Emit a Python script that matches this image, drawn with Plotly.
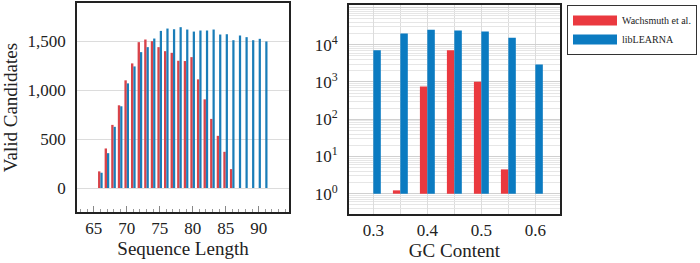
import plotly.graph_objects as go

# ---------------- data ----------------
seq_lengths = [66, 67, 68, 69, 70, 71, 72, 73, 74, 75, 76, 77, 78,
               79, 80, 81, 82, 83, 84, 85, 86, 87, 88, 89, 90, 91]
wachsmuth_len = [170, 404, 645, 845, 1100, 1273, 1490, 1517, 1500, 1439, 1398, 1381, 1300,
                 1297, 1337, 1110, 906, 706, 533, 370, 193, 0, 0, 0, 0, 0]
learna_len = [156, 356, 625, 835, 1069, 1242, 1388, 1439, 1527, 1605, 1629, 1622, 1643,
              1619, 1598, 1609, 1609, 1619, 1568, 1571, 1510, 1558, 1541, 1510, 1524, 1497]

gc_content = [0.30, 0.35, 0.40, 0.45, 0.50, 0.55, 0.60]
wachsmuth_gc = [None, 1.23, 759, 7160, 1012, 4.5, None]
learna_gc = [7130, 20050, 25100, 24150, 22700, 15350, 2960]

len_ticks = [65, 70, 75, 80, 85, 90]
gc_ticks = [0.3, 0.4, 0.5, 0.6]
log_ticks = [1, 10, 100, 1000, 10000, 100000]
log_ticktext = ["10<sup>%d</sup>" % i for i in range(6)]

names = ["Wachsmuth et al.", "libLEARNA"]

RED_L = "#D8434A"
BLUE_L = "#1A7DB8"
RED = "#EA393F"
BLUE = "#0B7BC1"
FONT = "Liberation Serif"
GRID = "#DCDCDC"
TICKFONT = dict(family=FONT, size=17, color="#222")
TITLEFONT = dict(family=FONT, size=19, color="#222")

fig = go.Figure()

# left panel
fig.add_trace(go.Bar(x=seq_lengths, y=wachsmuth_len, marker=dict(color=RED_L, line=dict(width=0)),
                     width=0.36, offset=-0.36, showlegend=False, xaxis="x", yaxis="y"))
fig.add_trace(go.Bar(x=seq_lengths, y=learna_len, marker=dict(color=BLUE_L, line=dict(width=0)),
                     width=0.34, offset=0.0, showlegend=False, xaxis="x", yaxis="y"))

# right panel (log scale, bars start at 10^0)
base_val = 1
fig.add_trace(go.Bar(x=gc_content, y=[None if v is None else v - base_val for v in wachsmuth_gc],
                     base=base_val, marker=dict(color=RED, line=dict(width=0)),
                     width=0.0137, offset=-0.0137, showlegend=False, xaxis="x2", yaxis="y2"))
fig.add_trace(go.Bar(x=gc_content, y=[v - base_val for v in learna_gc],
                     base=base_val, marker=dict(color=BLUE, line=dict(width=0)),
                     width=0.0139, offset=0.0, showlegend=False, xaxis="x2", yaxis="y2"))

# legend entries (wide swatches)
for nm, col in zip(names, [RED, BLUE]):
    fig.add_trace(go.Scatter(x=[None], y=[None], mode="lines", name=nm,
                             line=dict(color=col, width=12), xaxis="x2", yaxis="y2"))

fig.update_layout(
    width=700, height=263,
    margin=dict(l=0, r=0, t=0, b=0, autoexpand=False),
    paper_bgcolor="white", plot_bgcolor="white",
    barmode="overlay",
    font=dict(family=FONT, size=17, color="#222"),
    xaxis=dict(domain=[77/700, 289/700], range=[62.45, 94.6], automargin=False,
               tickvals=len_ticks, ticks="inside", ticklen=6, tickcolor="#888", tickwidth=1,
               minor=dict(dtick=1, tick0=0, ticks="inside", ticklen=3, tickcolor="#999"),
               showgrid=False, zeroline=False, tickfont=TICKFONT,
               showline=True, mirror=True, linecolor="#222", linewidth=1.6,
               ticklabelstandoff=0,
               title=dict(text="Sequence Length", font=TITLEFONT, standoff=0)),
    yaxis=dict(domain=[1-212/263, 1-3/263], range=[-245, 1890], automargin=False,
               tickvals=[0, 500, 1000, 1500], tickformat=",d", ticks="",
               showgrid=True, gridcolor=GRID, gridwidth=1, zeroline=False, tickfont=TICKFONT,
               showline=True, mirror=True, linecolor="#222", linewidth=1.6,
               ticklabelstandoff=6,
               title=dict(text="Valid Candidates", font=TITLEFONT, standoff=8)),
    xaxis2=dict(domain=[349/700, 560/700], range=[0.255, 0.6457], anchor="y2", automargin=False,
                tickvals=gc_ticks, ticks="", showgrid=True, gridcolor=GRID, gridwidth=1,
                minor=dict(dtick=0.05, tick0=0, showgrid=True, gridcolor=GRID, gridwidth=1),
                zeroline=False, showline=True, mirror=True, linecolor="#222", linewidth=1.6,
                tickfont=TICKFONT, ticklabelstandoff=0,
                title=dict(text="GC Content", font=TITLEFONT, standoff=0)),
    yaxis2=dict(domain=[1-214/263, 1-5/263], type="log", range=[-0.545, 5.067], anchor="x2",
                automargin=False,
                tickvals=log_ticks, ticktext=log_ticktext, ticks="", tickfont=TICKFONT,
                showgrid=True, gridcolor="#D0D0D0", gridwidth=1,
                minor=dict(dtick="D1", showgrid=True, gridcolor="#E6E6E6", gridwidth=1),
                zeroline=False, showline=True, mirror=True, linecolor="#222", linewidth=1.6,
                ticklabelstandoff=6),
    legend=dict(x=567/700, y=1-5/263, xanchor="left", yanchor="top",
                bordercolor="#333", borderwidth=1, bgcolor="white",
                font=dict(family=FONT, size=10, color="#222"),
                itemwidth=44, tracegroupgap=2),
)

fig.write_html("out.html", config={"displayModeBar": False},
               post_script="document.body.style.margin='0px';")
